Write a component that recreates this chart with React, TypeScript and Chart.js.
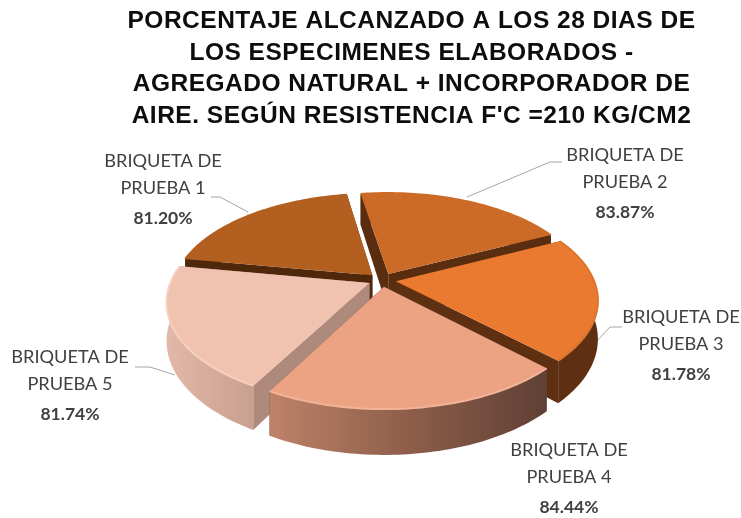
import React, { useEffect, useRef } from "react";
import { Chart, registerables } from "chart.js";

Chart.register(...registerables);

const titleLines = [
  "PORCENTAJE ALCANZADO A LOS 28 DIAS DE",
  "LOS ESPECIMENES ELABORADOS -",
  "AGREGADO NATURAL + INCORPORADOR DE",
  "AIRE. SEGÚN RESISTENCIA F'C =210 KG/CM2",
];
const categories = [
  ["BRIQUETA DE", "PRUEBA 1"],
  ["BRIQUETA DE", "PRUEBA 2"],
  ["BRIQUETA DE", "PRUEBA 3"],
  ["BRIQUETA DE", "PRUEBA 4"],
  ["BRIQUETA DE", "PRUEBA 5"],
];
const percentages = [81.2, 83.87, 81.78, 84.44, 81.74];
const topColors = ["#B35F20", "#CC6B27", "#E97A30", "#EBA383", "#F0C2AF"];

// styling / layout of the 3D look
const wallColors = ["#4F280C", "#5A2D10", "#5E3011", "#6A4436", "#AD8A7B"];
const outerWalls = [
  ["#4F280C", "#4F280C"],
  ["#5A2D10", "#5A2D10"],
  ["#5E3011", "#5E3011"],
  ["#BE8269", "#8E5E4A", "#5F4035"],
  ["#E2B9A8", "#C9A08F"],
];
const rimColors = ["#B35F20", "#CC6B27", "#DB742E", "#F3B397", "#F6D0C0"];
const drawOrder = [0, 1, 2, 4, 3];
const labelPos = [
  { x: 163, y: 161 },
  { x: 625, y: 155 },
  { x: 681, y: 317 },
  { x: 569, y: 450 },
  { x: 70, y: 357 },
];
const leaders = [
  [[211, 197], [220, 197], [248, 212]],
  [[562, 162], [550, 162], [467, 197]],
  [[622, 327], [610, 327], [595, 343]],
  [],
  [[135, 367], [150, 367], [175, 375]],
];
const view = { cx: 382, cy: 280, rx: 198, ry: 97.5, p: 0.18, depth: 37, explode: 0.07 };

type Pt = { x: number; y: number };

function project(u: number, v: number, z = 0): Pt {
  const w = 1 + view.p * v;
  return {
    x: view.cx + (view.rx * u) / w,
    y: view.cy - (view.ry * v) / w + (z * view.depth) / w,
  };
}

function tracePath(ctx: CanvasRenderingContext2D, pts: Pt[]) {
  ctx.beginPath();
  pts.forEach((q, i) => (i ? ctx.lineTo(q.x, q.y) : ctx.moveTo(q.x, q.y)));
  ctx.closePath();
}

const pie3d = {
  id: "pie3d",
  beforeDraw(chart: any) {
    chart.ctx.letterSpacing = "0.5px";
  },
  beforeDatasetsDraw(chart: any) {
    const ctx: CanvasRenderingContext2D = chart.ctx;
    ctx.letterSpacing = "0px";
    const arcs = chart.getDatasetMeta(0).data;
    ctx.save();
    ctx.lineJoin = "round";

    // leader lines sit behind the pie
    ctx.strokeStyle = "#A6A6A6";
    ctx.lineWidth = 1;
    leaders.forEach((l) => {
      if (!l.length) return;
      ctx.beginPath();
      l.forEach((q, i) => (i ? ctx.lineTo(q[0], q[1]) : ctx.moveTo(q[0], q[1])));
      ctx.stroke();
    });

    drawOrder.forEach((i) => {
      const arc = arcs[i];
      const a0 = arc.startAngle;
      const a1 = arc.endAngle;
      const mid = (a0 + a1) / 2;
      const ou = Math.cos(mid) * view.explode;
      const ov = -Math.sin(mid) * view.explode;
      const rim = (z: number) => {
        const pts: Pt[] = [];
        for (let k = 0; k <= 60; k++) {
          const a = a0 + ((a1 - a0) * k) / 60;
          pts.push(project(ou + Math.cos(a), ov - Math.sin(a), z));
        }
        return pts;
      };
      const top = rim(0);
      const bottom = rim(1);
      const apexTop = project(ou, ov, 0);
      const apexBottom = project(ou, ov, 1);

      // radial walls
      ctx.fillStyle = wallColors[i];
      tracePath(ctx, [apexTop, top[0], bottom[0], apexBottom]);
      ctx.fill();
      tracePath(ctx, [apexTop, top[60], bottom[60], apexBottom]);
      ctx.fill();

      // outer wall
      const xs = top.map((q) => q.x);
      const g = ctx.createLinearGradient(Math.min(...xs), 0, Math.max(...xs), 0);
      outerWalls[i].forEach((c, k, all) => g.addColorStop(k / (all.length - 1), c));
      ctx.fillStyle = g;
      tracePath(ctx, [...top, ...bottom.slice().reverse()]);
      ctx.fill();

      // top face
      ctx.fillStyle = arc.options.backgroundColor;
      tracePath(ctx, [apexTop, ...top]);
      ctx.fill();

      // bevel highlight along the rim
      ctx.strokeStyle = rimColors[i];
      ctx.lineWidth = 2;
      ctx.beginPath();
      top.forEach((q, k) => (k ? ctx.lineTo(q.x, q.y) : ctx.moveTo(q.x, q.y)));
      ctx.stroke();
    });

    // data labels
    ctx.textAlign = "center";
    ctx.textBaseline = "middle";
    ctx.fillStyle = "#404040";
    categories.forEach((lines, i) => {
      const pos = labelPos[i];
      ctx.font = "18.2px Lato";
      ctx.fillText(lines[0], pos.x, pos.y);
      ctx.fillText(lines[1], pos.x, pos.y + 27);
      ctx.font = "bold 17.5px Lato";
      ctx.fillText(percentages[i].toFixed(2) + "%", pos.x, pos.y + 57);
    });
    ctx.restore();
    return false;
  },
};

export default function App() {
  const ref = useRef<HTMLCanvasElement>(null);
  useEffect(() => {
    document.body.style.margin = "0";
    document.body.style.background = "#fff";
    const chart = new Chart(ref.current!, {
      type: "pie",
      data: {
        labels: categories.map((c) => c.join(" ")),
        datasets: [{ data: percentages, backgroundColor: topColors, borderWidth: 0 }],
      },
      options: {
        responsive: false,
        animation: false,
        rotation: -80,
        layout: { padding: { left: 82, top: 2 } },
        plugins: {
          legend: { display: false },
          tooltip: { enabled: false },
          title: {
            display: true,
            text: titleLines,
            color: "#0D0D0D",
            font: { family: "'Liberation Sans'", weight: "bold", size: 24.5, lineHeight: 1.3 },
            padding: { top: 3, bottom: 0 },
          },
        },
      },
      plugins: [pie3d],
    } as any);
    return () => chart.destroy();
  }, []);
  return (
    <canvas
      ref={ref}
      width={741}
      height={518}
      style={{ display: "block", width: 741, height: 518, filter: "blur(0.6px)" }}
    />
  );
}
